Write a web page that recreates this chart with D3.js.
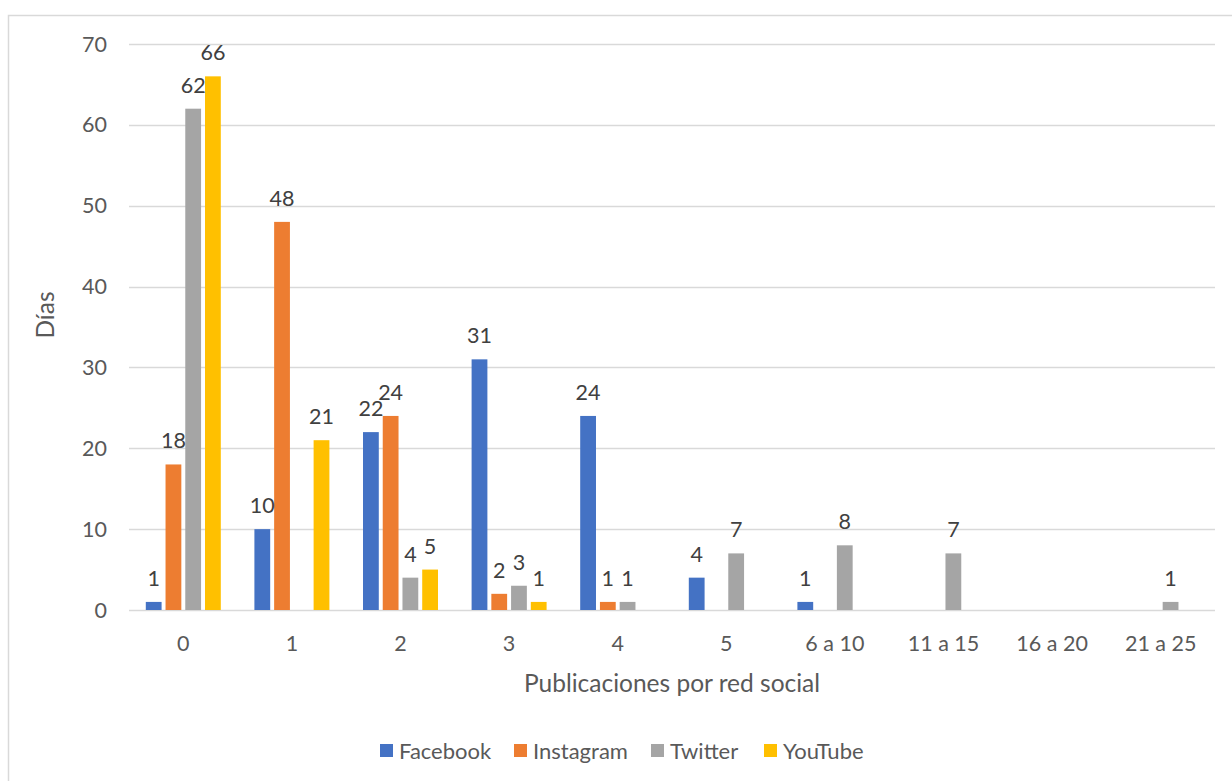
<!DOCTYPE html>
<html><head><meta charset="utf-8">
<script src="https://cdn.jsdelivr.net/npm/d3@7"></script>
<style>body{margin:0;background:#fff;}svg{display:block;font-family:Lato,"Open Sans",sans-serif;}</style>
</head><body>
<svg id="c" width="1232" height="781"></svg>
<script>
const categories = ["0","1","2","3","4","5","6 a 10","11 a 15","16 a 20","21 a 25"];
const seriesNames = ["Facebook","Instagram","Twitter","YouTube"];
const facebook  = [1, 10, 22, 31, 24, 4, 1, null, null, null];
const instagram = [18, 48, 24, 2, 1, null, null, null, null, null];
const twitter   = [62, null, 4, 3, 1, 7, 8, 7, null, 1];
const youtube   = [66, 21, 5, 1, null, null, null, null, null, null];
const yTicks = [0,10,20,30,40,50,60,70];
const colors = ["#4472c4","#ed7d31","#a5a5a5","#ffc000"];
const seriesValues = [facebook, instagram, twitter, youtube];

const svg = d3.select("#c");
svg.append("rect").attr("x",8.5).attr("y",15.5).attr("width",1240).attr("height",800)
  .attr("fill","#fff").attr("stroke","#d9d9d9").attr("stroke-width",1.5);

const pLeft = 129, pRight = 1215, pTop = 44, pBottom = 610;
const x = d3.scaleBand().domain(categories).range([pLeft,pRight]).paddingInner(0).paddingOuter(0);
const y = d3.scaleLinear().domain([0,70]).range([pBottom,pTop]);
const groupW = 75;
const xs = d3.scaleBand().domain(seriesNames).range([0,groupW]).paddingInner(0.2);

// gridlines
svg.append("g").selectAll("line").data(yTicks).join("line")
  .attr("x1",pLeft).attr("x2",pRight).attr("y1",d=>Math.round(y(d))+0.5).attr("y2",d=>Math.round(y(d))+0.5)
  .attr("stroke","#d9d9d9").attr("stroke-width",1.5);

// y tick labels
svg.append("g").selectAll("text").data(yTicks).join("text")
  .attr("x",107).attr("y",d=>y(d)).attr("dy","0.35em").attr("text-anchor","end")
  .attr("font-size",21.5).attr("fill","#595959").text(d=>d);

// x tick labels
svg.append("g").selectAll("text").data(categories).join("text")
  .attr("x",d=>x(d)+x.bandwidth()/2).attr("y",643).attr("dy","0.35em").attr("text-anchor","middle")
  .attr("font-size",21.5).attr("fill","#595959").text(d=>d);

// bars
const data = [];
categories.forEach((c,i)=>seriesNames.forEach((s,j)=>{
  const v = seriesValues[j][i];
  if (v !== null) data.push({c,s,v,j});
}));
const gx = d => x(d.c) + (x.bandwidth()-groupW)/2 + xs(d.s);
svg.append("g").selectAll("rect").data(data).join("rect")
  .attr("x",gx).attr("width",xs.bandwidth())
  .attr("y",d=>y(d.v)).attr("height",d=>y(0)-y(d.v))
  .attr("fill",d=>colors[d.j]);
svg.append("g").selectAll("text").data(data).join("text")
  .attr("x",d=>gx(d)+xs.bandwidth()/2).attr("y",d=>y(d.v)-16)
  .attr("text-anchor","middle").attr("font-size",21.5).attr("fill","#404040").text(d=>d.v);

// axis titles
svg.append("text").attr("x",672).attr("y",683).attr("dy","0.35em").attr("text-anchor","middle")
  .attr("font-size",24.5).attr("fill","#595959").text("Publicaciones por red social");
svg.append("text").attr("transform","translate(45,315) rotate(-90)").attr("dy","0.35em")
  .attr("text-anchor","middle").attr("font-size",24.5).attr("fill","#595959").text("Días");

// legend
const legX = [380,514,651,764];
const lg = svg.append("g").selectAll("g").data(seriesNames).join("g")
  .attr("transform",(d,i)=>`translate(${legX[i]},751)`);
lg.append("rect").attr("x",0).attr("y",-7).attr("width",13).attr("height",13).attr("fill",(d,i)=>colors[i]);
lg.append("text").attr("x",19).attr("y",0).attr("dy","0.35em").attr("font-size",22).attr("fill","#595959").text(d=>d);
</script>
</body></html>
